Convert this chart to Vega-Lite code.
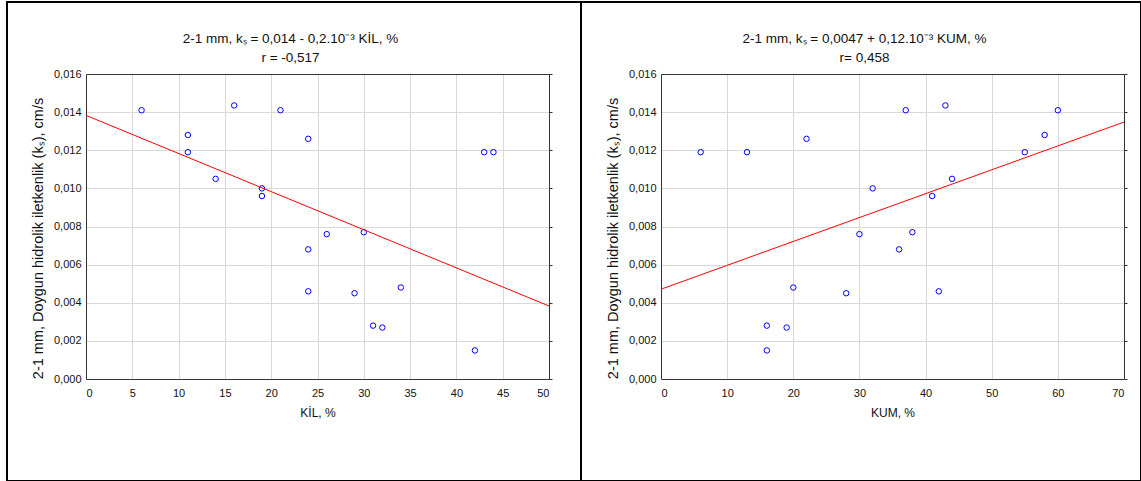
{
  "$schema": "https://vega.github.io/schema/vega-lite/v6.json",
  "padding": {"left": 6, "top": 1, "right": 0, "bottom": 0},
  "background": "white",
  "spacing": 0,
  "bounds": "flush",
  "datasets": {
    "kil": [
      {"kil": 6, "ks": 0.0141}, {"kil": 16, "ks": 0.01435}, {"kil": 21, "ks": 0.0141}, {"kil": 11, "ks": 0.0128},
      {"kil": 11, "ks": 0.0119}, {"kil": 24, "ks": 0.0126}, {"kil": 43, "ks": 0.0119}, {"kil": 44, "ks": 0.0119},
      {"kil": 14, "ks": 0.0105}, {"kil": 19, "ks": 0.0100}, {"kil": 19, "ks": 0.0096}, {"kil": 26, "ks": 0.0076},
      {"kil": 30, "ks": 0.0077}, {"kil": 24, "ks": 0.0068}, {"kil": 24, "ks": 0.0046}, {"kil": 29, "ks": 0.0045},
      {"kil": 34, "ks": 0.0048}, {"kil": 31, "ks": 0.0028}, {"kil": 32, "ks": 0.0027}, {"kil": 42, "ks": 0.0015}
    ],
    "kum": [
      {"kum": 6, "ks": 0.0119}, {"kum": 13, "ks": 0.0119}, {"kum": 22, "ks": 0.0126}, {"kum": 37, "ks": 0.0141},
      {"kum": 43, "ks": 0.01435}, {"kum": 60, "ks": 0.0141}, {"kum": 58, "ks": 0.0128}, {"kum": 55, "ks": 0.0119},
      {"kum": 44, "ks": 0.0105}, {"kum": 32, "ks": 0.0100}, {"kum": 41, "ks": 0.0096}, {"kum": 30, "ks": 0.0076},
      {"kum": 38, "ks": 0.0077}, {"kum": 36, "ks": 0.0068}, {"kum": 20, "ks": 0.0048}, {"kum": 28, "ks": 0.0045},
      {"kum": 42, "ks": 0.0046}, {"kum": 16, "ks": 0.0028}, {"kum": 19, "ks": 0.0027}, {"kum": 16, "ks": 0.0015}
    ],
    "fit_kil": [{"kil": 0, "ks": 0.01383}, {"kil": 50, "ks": 0.00383}],
    "fit_kum": [{"kum": 0, "ks": 0.00471}, {"kum": 70, "ks": 0.01348}]
  },
  "config": {
    "locale": {"number": {"decimal": ",", "thousands": ".", "grouping": [3], "currency": ["", ""]}},
    "view": {"stroke": "black", "strokeWidth": 2},
    "font": "Liberation Sans",
    "axis": {
      "labelFont": "Liberation Sans", "labelFontSize": 11, "labelColor": "#111",
      "titleFont": "Liberation Sans", "titleFontSize": 12, "titleFontWeight": "normal", "titleColor": "#111",
      "domainColor": "#333", "domainWidth": 1, "gridColor": "#d9d9d9", "gridWidth": 1, "gridOpacity": 1,
      "ticks": false
    }
  },
  "hconcat": [
    {
      "width": 574, "height": 479,
      "resolve": {"axis": {"x": "independent", "y": "independent"}},
      "layer": [
        {
          "data": {"name": "kil"},
          "mark": {"type": "point", "shape": "circle", "filled": false, "color": "#0000ff", "size": 30, "strokeWidth": 1, "opacity": 1},
          "encoding": {
            "x": {"field": "kil", "type": "quantitative",
              "scale": {"domain": [0, 50], "range": [79, 542], "nice": false, "zero": false},
              "axis": {"orient": "bottom", "offset": -102, "grid": false, "tickCount": 10, "labelPadding": 8, "title": "KİL, %", "titlePadding": 9}},
            "y": {"field": "ks", "type": "quantitative",
              "scale": {"domain": [0, 0.016], "range": [377, 72], "nice": false, "zero": false},
              "axis": {"orient": "left", "offset": -79, "grid": true, "values": [0, 0.002, 0.004, 0.006, 0.008, 0.01, 0.012, 0.014, 0.016], "format": ".3f", "labelPadding": 5, "title": "2-1 mm, Doygun hidrolik iletkenlik (kₛ), cm/s", "titleFontSize": 14.5, "titlePadding": 8, "titleY": 236}}
          }
        },
        {
          "data": {"name": "fit_kil"},
          "mark": {"type": "line", "color": "#ff0000", "strokeWidth": 1},
          "encoding": {
            "x": {"field": "kil", "type": "quantitative",
              "axis": {"orient": "top", "offset": -72, "grid": true, "labels": false, "tickCount": 10, "title": ["2-1 mm, kₛ = 0,014 - 0,2.10⁻³ KİL, %", "r = -0,517"], "titleFontSize": 13.5, "titlePadding": 10, "titleX": 283, "titleLineHeight": 19}},
            "y": {"field": "ks", "type": "quantitative",
              "axis": {"orient": "right", "offset": -32, "grid": false, "labels": false, "title": null, "ticks": true, "tickSize": 3, "tickColor": "#333", "values": [0, 0.002, 0.004, 0.006, 0.008, 0.01, 0.012, 0.014, 0.016]}}
          }
        }
      ]
    },
    {
      "width": 560, "height": 479,
      "resolve": {"axis": {"x": "independent", "y": "independent"}},
      "layer": [
        {
          "data": {"name": "kum"},
          "mark": {"type": "point", "shape": "circle", "filled": false, "color": "#0000ff", "size": 30, "strokeWidth": 1, "opacity": 1},
          "encoding": {
            "x": {"field": "kum", "type": "quantitative",
              "scale": {"domain": [0, 70], "range": [80, 543], "nice": false, "zero": false},
              "axis": {"orient": "bottom", "offset": -102, "grid": false, "tickCount": 7, "labelPadding": 8, "title": "KUM, %", "titlePadding": 9}},
            "y": {"field": "ks", "type": "quantitative",
              "scale": {"domain": [0, 0.016], "range": [377, 72], "nice": false, "zero": false},
              "axis": {"orient": "left", "offset": -80, "grid": true, "values": [0, 0.002, 0.004, 0.006, 0.008, 0.01, 0.012, 0.014, 0.016], "format": ".3f", "labelPadding": 5, "title": "2-1 mm, Doygun hidrolik iletkenlik (kₛ), cm/s", "titleFontSize": 14.5, "titlePadding": 8, "titleY": 236}}
          }
        },
        {
          "data": {"name": "fit_kum"},
          "mark": {"type": "line", "color": "#ff0000", "strokeWidth": 1},
          "encoding": {
            "x": {"field": "kum", "type": "quantitative",
              "axis": {"orient": "top", "offset": -72, "grid": true, "labels": false, "tickCount": 7, "title": ["2-1 mm, kₛ = 0,0047 + 0,12.10⁻³ KUM, %", "r= 0,458"], "titleFontSize": 13.5, "titlePadding": 10, "titleX": 283, "titleLineHeight": 19}},
            "y": {"field": "ks", "type": "quantitative",
              "axis": {"orient": "right", "offset": -17, "grid": false, "labels": false, "title": null, "ticks": true, "tickSize": 3, "tickColor": "#333", "values": [0, 0.002, 0.004, 0.006, 0.008, 0.01, 0.012, 0.014, 0.016]}}
          }
        }
      ]
    }
  ]
}
